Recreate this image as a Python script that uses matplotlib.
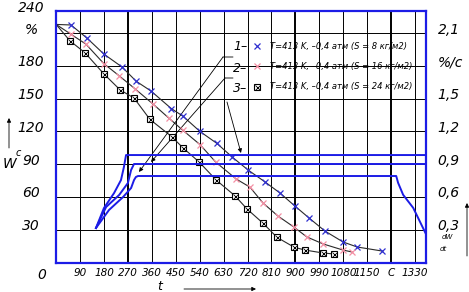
import matplotlib
matplotlib.use('Agg')
import matplotlib.pyplot as plt
from matplotlib.lines import Line2D
from matplotlib.transforms import ScaledTranslation

# ---------------- data ----------------
# drying curves W (%) vs time t (s)
t1 = [0, 56, 116, 180, 248, 301, 357, 433, 477, 541, 605, 662, 722, 786, 842, 898, 951, 1011, 1079, 1132, 1226]
w1 = [218, 217.5, 205.5, 190.8, 179, 166, 157, 141, 134, 120, 109, 96.6, 84.7, 73.7, 63.6, 51.7, 40.8, 28.8, 18.8, 14.2, 10.5]

t2 = [0, 56, 112, 180, 237, 297, 365, 425, 477, 541, 600, 677, 729, 778, 834, 894, 943, 1004, 1079, 1113]
w2 = [218, 209, 200, 182, 171, 159, 145, 132, 121, 108, 92, 76.5, 69, 54.5, 42.6, 32.5, 23.4, 17, 11.4, 9.6]

t3 = [0, 52, 109, 180, 241, 293, 353, 436, 477, 538, 602, 673, 718, 778, 831, 895, 936, 1004, 1045]
w3 = [218, 203, 192, 172.6, 158, 150.6, 131, 115, 105, 92, 75.5, 61, 49, 36, 23, 14, 11.4, 8.7, 7.8]

# drying rate curves dW/dt (%/s) vs time
rt1 = [150, 180, 218, 244, 255, 263, 1400]
r1 = [0.316, 0.499, 0.636, 0.755, 0.874, 0.984, 0.984]
rt2 = [150, 188, 237, 270, 282, 293, 1400]
r2 = [0.316, 0.508, 0.618, 0.728, 0.847, 0.902, 0.902]
rt3 = [150, 199, 252, 282, 293, 300, 308, 1279, 1286, 1305, 1343, 1391]
r3 = [0.316, 0.481, 0.600, 0.682, 0.755, 0.783, 0.792, 0.792, 0.73, 0.62, 0.50, 0.26]

legend_labels = ['T=413 K, –0,4 атм (S = 8 кг/м2)',
                 'T=413 K, –0,4 атм (S = 16 кг/м2)',
                 'T=413 K, –0,4 атм (S = 24 кг/м2)']

x_ticks = [90, 180, 270, 360, 450, 540, 630, 720, 810, 900, 990, 1080, 1170, 1260, 1350]
x_ticklabels = ['90', '180', '270', '360', '450', '540', '630', '720', '810', '900',
                '990', '1080', '1150', 'C', '1330']
y_ticks = [30, 60, 90, 120, 150, 180, 210, 230.3]
y_ticklabels = ['30', '60', '90', '120', '150', '180', '%', '240']
r_ticks = [0.3, 0.6, 0.9, 1.2, 1.5, 1.8, 2.1]
r_ticklabels = ['0,3', '0,6', '0,9', '1,2', '1,5', '%/c', '2,1']
thick_x = [270, 900, 1260]

# ---------------- style ----------------
FONT = ['Liberation Sans Narrow', 'DejaVu Sans']
plt.rcParams['font.family'] = FONT
plt.rcParams['font.style'] = 'italic'
BLUE = '#1c1ce6'
PINK = '#f48fa4'
MBLUE = '#2f2fd0'

fig = plt.figure(figsize=(4.69, 2.92), dpi=100)
ax = fig.add_axes([56.1 / 469, 29.5 / 292, 369.9 / 469, 251.5 / 292])
ax.set_xlim(0, 1391)
ax.set_ylim(0, 230.3)

# grid
for xv in x_ticks:
    ax.axvline(xv, color='black', lw=1.4 if xv in thick_x else 0.7, zorder=1)
for yv in y_ticks[:-1]:
    ax.axhline(yv, color='black', lw=0.7, zorder=1)

for sp in ax.spines.values():
    sp.set_color(BLUE)
    sp.set_linewidth(1.6)
    sp.set_zorder(5)

ax.set_xticks(x_ticks)
ax.set_xticklabels(x_ticklabels, fontsize=7.5)
ax.set_yticks(y_ticks)
ax.set_yticklabels(y_ticklabels, fontsize=10)
ax.tick_params(axis='x', length=0, pad=4)
ax.tick_params(axis='y', length=0, pad=18)
off = ScaledTranslation(0, 5 / 100, fig.dpi_scale_trans)
for lab in ax.get_yticklabels():
    lab.set_ha('center')
    lab.set_transform(lab.get_transform() + off)

# drying curves
lc = '#2a2a2a'
ax.plot(t1, w1, color=lc, lw=0.8, zorder=3)
ax.plot(t2, w2, color=lc, lw=0.8, zorder=3)
ax.plot(t3, w3, color=lc, lw=0.8, zorder=3)
ax.plot(t1[1:], w1[1:], ls='none', marker='x', ms=5.0, mew=0.9, color=MBLUE, zorder=4)
ax.plot(t2[1:], w2[1:], ls='none', marker='x', ms=5.0, mew=0.9, color=PINK, zorder=4)
ax.plot(t3[1:], w3[1:], ls='none', marker='s', ms=5.0, mew=0.8, mfc='white', mec='black', zorder=4)
ax.plot(t3[1:], w3[1:], ls='none', marker='x', ms=3.6, mew=0.6, color='black', zorder=4)

# rate curves on right axis
ax2 = ax.twinx()
ax2.set_ylim(0, 2.303)
ax2.set_xlim(0, 1391)
ax2.plot(rt1, r1, color=BLUE, lw=1.4, zorder=3)
ax2.plot(rt2, r2, color=BLUE, lw=1.4, zorder=3)
ax2.plot(rt3, r3, color=BLUE, lw=1.4, zorder=3)
for sp in ax2.spines.values():
    sp.set_visible(False)
ax2.set_yticks(r_ticks)
ax2.set_yticklabels(r_ticklabels, fontsize=10)
ax2.tick_params(axis='y', length=0, pad=8.5)
for lab in ax2.get_yticklabels():
    lab.set_transform(lab.get_transform() + off)

# legend
h1 = Line2D([], [], ls='none', marker='x', ms=5.0, mew=0.9, color=MBLUE)
h2 = Line2D([], [], ls='none', marker='x', ms=5.0, mew=0.9, color=PINK)
h3a = Line2D([], [], ls='none', marker='s', ms=5.0, mew=0.8, mfc='white', mec='black')
h3b = Line2D([], [], ls='none', marker='x', ms=3.6, mew=0.6, color='black')
leg = ax.legend([h1, h2, (h3a, h3b)], legend_labels, loc='upper left',
                bbox_to_anchor=(253 / 469, 250 / 292), bbox_transform=fig.transFigure,
                frameon=False, fontsize=6, borderpad=0, borderaxespad=0,
                handlelength=1.0, handletextpad=1.0, labelspacing=1.35)
for i, y in enumerate([46, 68, 88]):
    fig.text(233 / 469, 1 - y / 292, f'{i + 1}–', fontsize=9, va='center', ha='left')

# leader lines
def fp(x, y):
    return (x, 292 - y)

ap = dict(arrowstyle='-|>', color='black', lw=0.6, mutation_scale=6, shrinkA=0, shrinkB=0)
lp = dict(arrowstyle='-', color='black', lw=0.6, shrinkA=0, shrinkB=0)
ax.annotate('', xy=fp(139, 172), xytext=fp(223, 57), xycoords='figure pixels', textcoords='figure pixels', arrowprops=ap)
ax.annotate('', xy=fp(233, 57), xytext=fp(223, 57), xycoords='figure pixels', textcoords='figure pixels', arrowprops=lp)
ax.annotate('', xy=fp(151, 162), xytext=fp(225, 78), xycoords='figure pixels', textcoords='figure pixels', arrowprops=ap)
ax.annotate('', xy=fp(233, 78), xytext=fp(225, 78), xycoords='figure pixels', textcoords='figure pixels', arrowprops=lp)
ax.annotate('', xy=fp(241, 153), xytext=fp(227, 102), xycoords='figure pixels', textcoords='figure pixels', arrowprops=ap)

# axis arrows and labels
ax.annotate('', xy=fp(9, 118), xytext=fp(9, 148), xycoords='figure pixels', textcoords='figure pixels', arrowprops=ap)
ax.annotate('', xy=fp(467, 203), xytext=fp(467, 256), xycoords='figure pixels', textcoords='figure pixels', arrowprops=ap)
ax.annotate('', xy=fp(256, 289), xytext=fp(184, 289), xycoords='figure pixels', textcoords='figure pixels', arrowprops=ap)

fig.text(42 / 469, 1 - 275 / 292, '0', fontsize=10, ha='center', va='center')
fig.text(10 / 469, 1 - 164 / 292, 'W', fontsize=10, ha='center', va='center')
fig.text(18 / 469, 1 - 153 / 292, 'c', fontsize=7, ha='center', va='center')
fig.text(160 / 469, 1 - 287 / 292, 't', fontsize=9, ha='center', va='center')
fig.text(447 / 469, 1 - 237 / 292, 'dW', fontsize=5, ha='center', va='center')
fig.text(443 / 469, 1 - 249 / 292, 'dt', fontsize=5, ha='center', va='center')

fig.savefig('out.png', dpi=100)
